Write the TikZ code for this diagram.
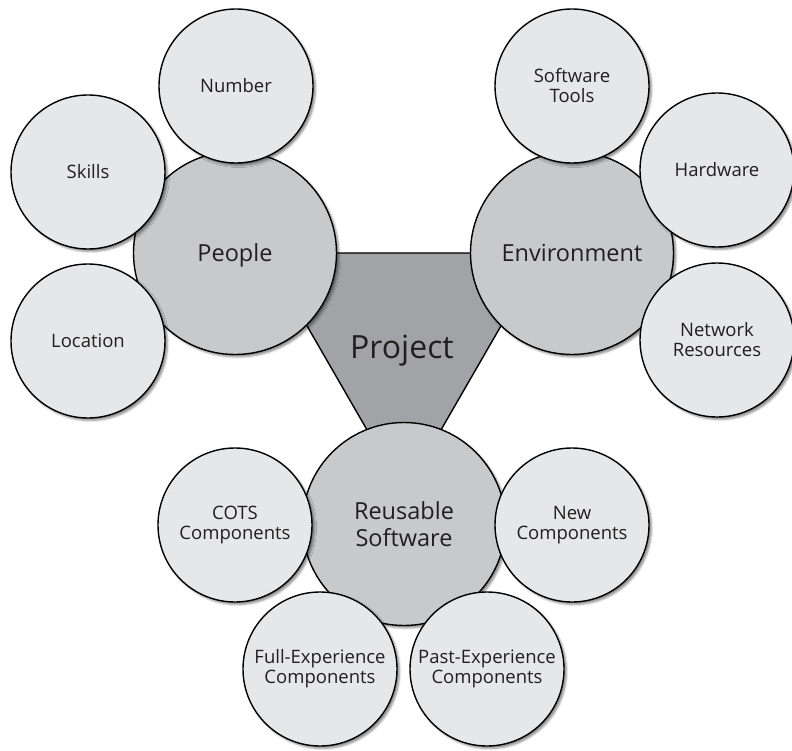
\documentclass[tikz,border=0pt]{standalone}
\usepackage{fontspec}
\setmainfont{Open Sans}
\usetikzlibrary{shadows.blur}
\definecolor{leafgray}{HTML}{E6E7E8}
\definecolor{hubgray}{HTML}{C8C9CB}
\definecolor{coregray}{HTML}{A2A3A6}
\definecolor{inkgray}{HTML}{231F20}

\begin{document}
\begin{tikzpicture}[x=1pt, y=-1pt,
  softshadow/.style={blur shadow={shadow xshift=2.5pt, shadow yshift=-2.5pt, shadow blur radius=2pt, shadow opacity=45}},
  hub/.style={circle, draw=black, line width=1.4pt, fill=hubgray, minimum size=203pt, inner sep=0pt,
    align=center, text=inkgray, text depth=0pt, font=\fontsize{23.5}{27}\selectfont, softshadow},
  leaf/.style={circle, draw=black, line width=1.4pt, fill=leafgray, minimum size=154pt, inner sep=0pt,
    align=center, text=inkgray, font=\fontsize{18.5}{20}\selectfont, softshadow}]
\useasboundingbox (0,0) rectangle (792,751);

% Project triangle
\filldraw[fill=coregray, draw=black, line width=1.4pt] (265,253) -- (543,253) -- (404,494) -- cycle;
\node[text=inkgray, font=\fontsize{32}{36}\selectfont] (project) at (402,351) {Project};

% main groups
\node[hub] (people) at (235,253) {People};
\node[hub] (environment) at (572,253) {Environment};
\node[hub] (reusable) at (404,524) {Reusable\\Software};

% People
\node[leaf] (number) at (236,86) {Number};
\node[leaf] (skills) at (88,172) {Skills};
\node[leaf] (location) at (88,341) {Location};

% Environment
\node[leaf] (tools) at (572,86) {Software\\Tools};
\node[leaf] (hardware) at (717,170) {Hardware};
\node[leaf] (network) at (717,340) {Network\\Resources};

% Reusable Software
\node[leaf] (cots) at (235,525) {COTS\\Components};
\node[leaf] (new) at (572,525) {New\\Components};
\node[leaf] (full) at (320,669) {Full-Experience\\Components};
\node[leaf] (past) at (487,669) {Past-Experience\\Components};
\end{tikzpicture}
\end{document}
